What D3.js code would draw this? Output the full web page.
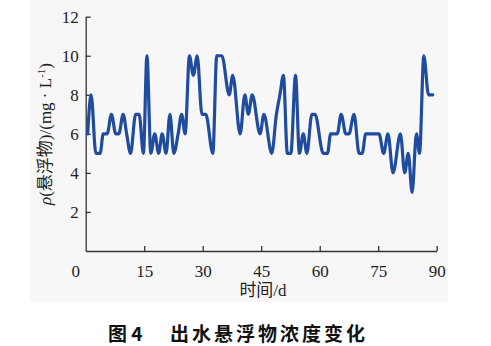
<!DOCTYPE html>
<html>
<head>
<meta charset="utf-8">
<script src="https://cdn.jsdelivr.net/npm/d3@7"></script>
<style>
  body { margin: 0; background: #fff; }
  svg { display: block; }
</style>
</head>
<body>
<svg id="chart"></svg>
<script>
// dades llegides de la figura (dia, mg/L)
var days = [0.5, 1.4, 2.6, 3.7, 4.5, 5.5, 6.6, 7.7, 8.5, 9.6, 10.5, 11.5, 12.8, 13.7, 14.8,
  15.7, 16.7, 17.7, 18.7, 19.6, 20.6, 21.6, 22.6, 23.7, 24.6, 25.5, 26.6, 27.6, 28.6,
  29.8, 30.8, 32.6, 33.6, 34.9, 36.8, 37.7, 39.6, 40.8, 41.7, 42.7, 44.7, 45.7, 47.7,
  48.9, 49.8, 50.7, 51.7, 52.6, 53.8, 54.8, 55.8, 56.7, 58.0, 58.8, 60.9, 62.0,
  62.8, 64.5, 65.5, 66.7, 67.5, 68.8, 70.1, 70.9, 71.8, 75.2, 76.4, 77.5, 78.8,
  80.7, 81.8, 82.7, 83.7, 84.8, 85.6, 86.7, 87.9, 89.0];
var values = [6, 8, 5, 5, 6, 6, 7, 6, 6, 7, 6, 5, 7, 7, 5,
  10, 5, 6, 5, 6, 5, 7, 5, 6, 7, 6, 10, 9, 10,
  7, 7, 5, 10, 10, 8, 9, 6, 8, 7, 8, 6, 7, 5,
  7, 8, 9, 5, 5, 9, 5, 6, 5, 7, 7, 5, 5,
  6, 6, 7, 6, 6, 7, 5, 5, 6, 6, 5, 6, 4,
  6, 4, 5, 3, 6, 5, 10, 8, 8];

var xTicks = [15, 30, 45, 60, 75, 90];
var yTicks = [2, 4, 6, 8, 10, 12];

var width = 491, height = 346;
var margin = { left: 85.7, top: 16.7, right: 54.3, bottom: 95 };
var plotW = width - margin.left - margin.right;
var plotH = height - margin.top - margin.bottom;

var serif = "'Liberation Serif', 'Times New Roman', 'Noto Sans CJK SC', serif";
var cjk = "'Noto Sans CJK SC', sans-serif";
var lineColor = "#1f4c9e";
var axisColor = "#333";

var svg = d3.select("#chart")
  .attr("width", width)
  .attr("height", height);

// fons gris clar de la figura
svg.append("rect")
  .attr("x", 30).attr("y", 0)
  .attr("width", 418).attr("height", 302)
  .attr("fill", "#f7f7f7");

var x = d3.scaleLinear().domain([0, 90]).range([0, plotW]);
var y = d3.scaleLinear().domain([0, 12]).range([plotH, 0]);

var g = svg.append("g")
  .attr("transform", "translate(" + margin.left + "," + margin.top + ")");

// eix X
var xAxis = g.append("g")
  .attr("transform", "translate(0," + plotH + ")")
  .call(d3.axisBottom(x).tickValues(xTicks).tickSize(-5).tickSizeOuter(0).tickPadding(10));

// eix Y
var yAxis = g.append("g")
  .call(d3.axisLeft(y).tickValues(yTicks).tickSize(-5).tickSizeOuter(0).tickPadding(7));

[xAxis, yAxis].forEach(function(a) {
  a.select(".domain").attr("stroke", axisColor).attr("stroke-width", 1.3);
  a.selectAll(".tick line").attr("stroke", axisColor).attr("stroke-width", 1.3);
  a.selectAll(".tick text")
    .attr("fill", "#222")
    .style("font-family", serif)
    .style("font-size", "17px");
});
xAxis.selectAll(".tick text").attr("dy", "0.95em");

// etiqueta 0 a l'origen
g.append("text")
  .attr("x", -10)
  .attr("y", plotH + 10)
  .attr("dy", "0.95em")
  .attr("text-anchor", "middle")
  .attr("fill", "#222")
  .style("font-family", serif)
  .style("font-size", "17px")
  .text("0");

// línia de dades
var pts = days.map(function(d, i) { return [d, values[i]]; });
var line = d3.line()
  .x(function(d) { return x(d[0]); })
  .y(function(d) { return y(d[1]); })
  .curve(d3.curveMonotoneX);

g.append("path")
  .datum(pts)
  .attr("d", line)
  .attr("fill", "none")
  .attr("stroke", lineColor)
  .attr("stroke-width", 3.2)
  .attr("stroke-linejoin", "round")
  .attr("stroke-linecap", "round");

// títol eix X
svg.append("text")
  .attr("x", 263)
  .attr("y", 296)
  .attr("text-anchor", "middle")
  .attr("fill", "#222")
  .style("font-family", serif)
  .style("font-size", "17px")
  .text("时间/d");

// títol eix Y
var yl = svg.append("text")
  .attr("transform", "translate(51,134) rotate(-90)")
  .attr("text-anchor", "middle")
  .attr("fill", "#222")
  .style("font-family", serif)
  .style("font-size", "17px");
yl.append("tspan").style("font-style", "italic").text("ρ");
yl.append("tspan").text("(悬浮物)/(mg · L");
yl.append("tspan").attr("dy", -6).style("font-size", "11px").text("-1");
yl.append("tspan").attr("dy", 6).text(")");

// peu de figura
svg.append("text")
  .attr("x", 108)
  .attr("y", 341)
  .attr("fill", "#111")
  .style("font-family", cjk)
  .style("font-weight", "bold")
  .style("font-size", "19px")
  .text("图 4");

svg.append("text")
  .attr("x", 170)
  .attr("y", 341)
  .attr("fill", "#111")
  .style("font-family", cjk)
  .style("font-weight", "bold")
  .style("font-size", "19px")
  .style("letter-spacing", "3px")
  .text("出水悬浮物浓度变化");
</script>
</body>
</html>
